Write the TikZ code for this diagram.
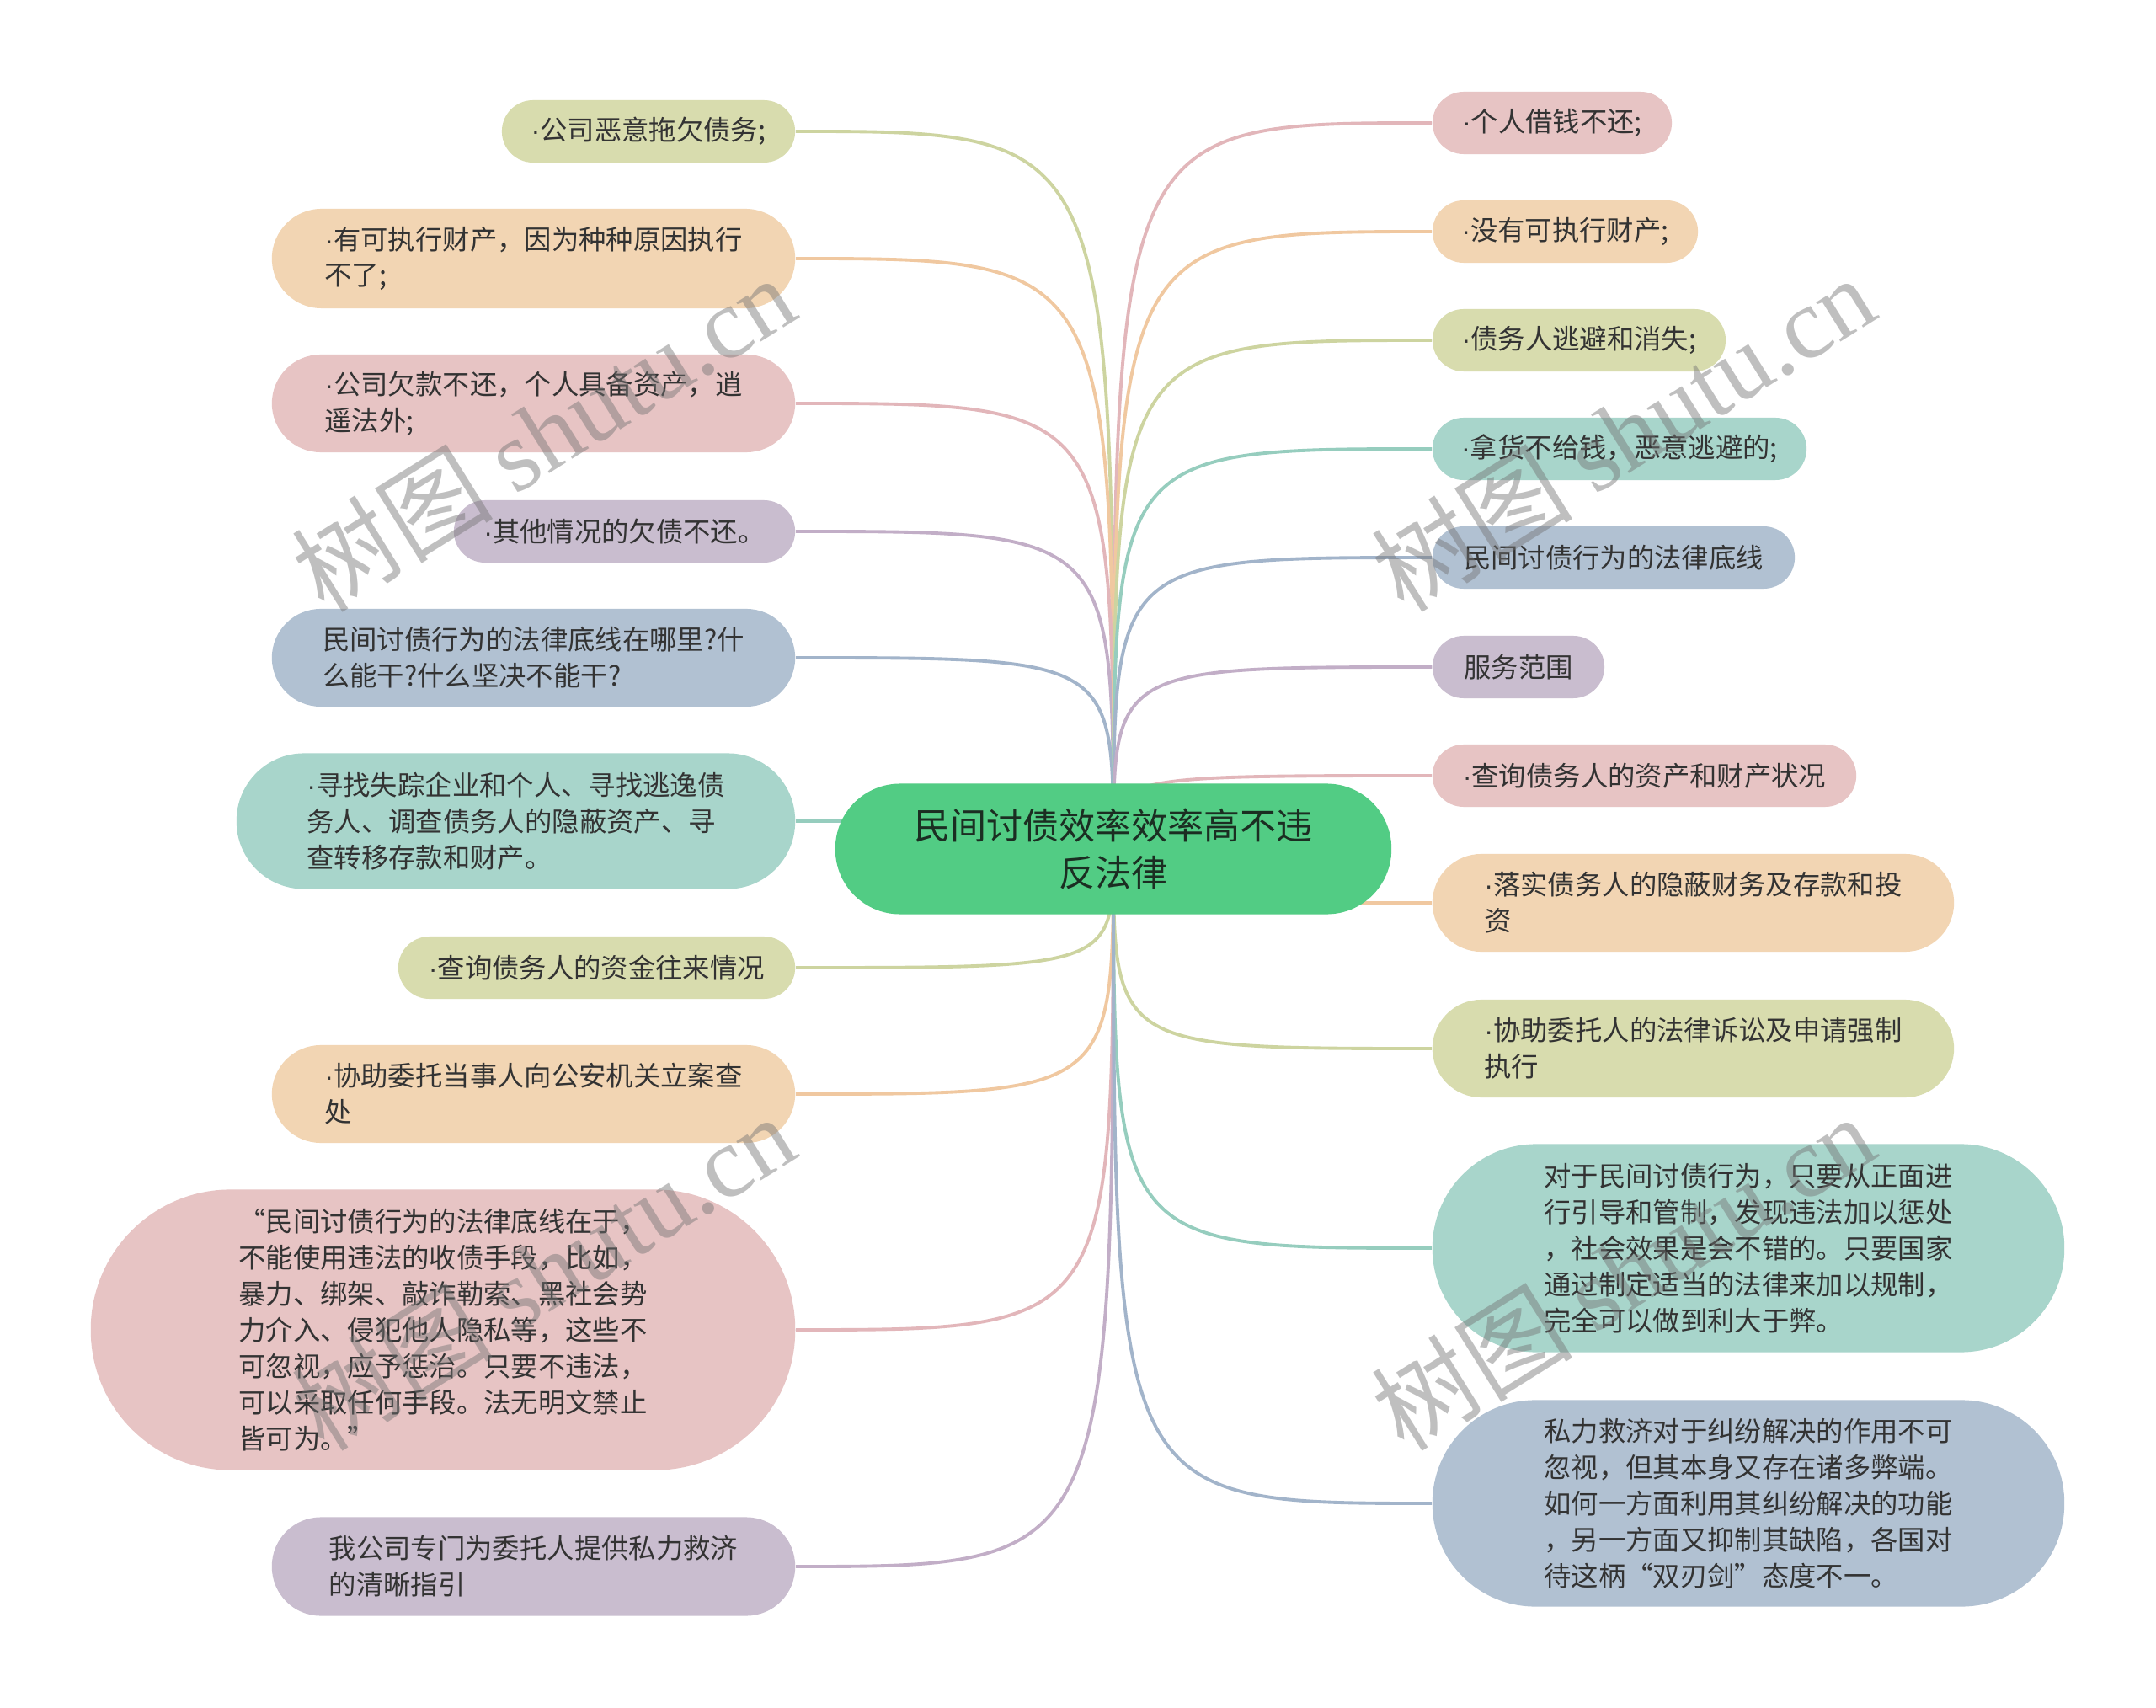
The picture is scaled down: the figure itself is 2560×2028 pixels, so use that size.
\documentclass[tikz,border=0pt]{standalone}
\usepackage{fontspec}
\setmainfont{Noto Sans CJK SC}
\newfontfamily\wmlatin{Liberation Serif}
\newfontfamily\dotfont{Liberation Sans}
\newcommand\dt{{\dotfont ·}}
\usetikzlibrary{backgrounds}
\definecolor{cpink}{HTML}{E7C4C4}
\definecolor{cpeach}{HTML}{F2D5B3}
\definecolor{colive}{HTML}{D8DCAE}
\definecolor{cteal}{HTML}{A8D5CB}
\definecolor{cblue}{HTML}{B1C1D2}
\definecolor{cpurple}{HTML}{C9BDCF}
\definecolor{lpink}{HTML}{E2B6BA}
\definecolor{lpeach}{HTML}{F0C8A0}
\definecolor{lolive}{HTML}{CDD4A0}
\definecolor{lteal}{HTML}{96CDBE}
\definecolor{lblue}{HTML}{A2B4CA}
\definecolor{lpurple}{HTML}{C2AEC7}
\definecolor{croot}{HTML}{52CC84}
\definecolor{ctext}{HTML}{333333}
\definecolor{croottext}{HTML}{1B2E22}
\newcommand\leafnode[8]{\node[leaf, fill=#6, minimum width=#4cm, minimum height=#5cm, rounded corners=#7cm] (#1) at (#2,#3) {#8};}
\begin{document}
\begin{tikzpicture}[x=0.01cm,y=-0.01cm,
  leaf/.style={draw=none, align=left, text=ctext, inner sep=0pt,
    font=\fontsize{9.2pt}{12.2pt}\selectfont},
  rootnode/.style={draw=none, fill=croot, align=center, text=croottext, inner sep=0pt,
    minimum width=6.6cm, minimum height=1.55cm, rounded corners=0.77cm,
    font=\fontsize{12.25pt}{15.8pt}\selectfont},
  conn/.style={line width=1.1pt},
  wm/.style={text=black!55, text opacity=0.45, inner sep=0pt,
    font=\fontsize{34pt}{40pt}\selectfont}]
\useasboundingbox (0,0) rectangle (2560,2028);

\node[rootnode] (root) at (1322,1008) {民间讨债效率效率高不违\\反法律};

% left side
\leafnode{l1}{770}{156}{3.48}{0.74}{colive}{0.37}{\dt 公司恶意拖欠债务;}
\leafnode{l2}{633.5}{307}{6.21}{1.18}{cpeach}{0.59}{\dt 有可执行财产，因为种种原因执行\\不了;}
\leafnode{l3}{633.5}{479}{6.21}{1.16}{cpink}{0.58}{\dt 公司欠款不还，个人具备资产，逍\\遥法外;}
\leafnode{l4}{741.5}{631}{4.05}{0.74}{cpurple}{0.37}{\dt 其他情况的欠债不还。}
\leafnode{l5}{633.5}{781}{6.21}{1.16}{cblue}{0.58}{民间讨债行为的法律底线在哪里?什\\么能干?什么坚决不能干?}
\leafnode{l6}{612.5}{975}{6.63}{1.61}{cteal}{0.80}{\dt 寻找失踪企业和个人、寻找逃逸债\\务人、调查债务人的隐蔽资产、寻\\查转移存款和财产。}
\leafnode{l7}{708.5}{1149}{4.71}{0.74}{colive}{0.37}{\dt 查询债务人的资金往来情况}
\leafnode{l8}{633.5}{1299}{6.21}{1.16}{cpeach}{0.58}{\dt 协助委托当事人向公安机关立案查\\处}
\leafnode{l9}{526}{1579}{8.36}{3.33}{cpink}{1.66}{“民间讨债行为的法律底线在于，\\不能使用违法的收债手段，比如，\\暴力、绑架、敲诈勒索、黑社会势\\力介入、侵犯他人隐私等，这些不\\可忽视，应予惩治。只要不违法，\\可以采取任何手段。法无明文禁止\\皆可为。”}
\leafnode{l10}{633.5}{1860}{6.21}{1.17}{cpurple}{0.58}{我公司专门为委托人提供私力救济\\的清晰指引}

% right side
\leafnode{r1}{1843}{146}{2.84}{0.74}{cpink}{0.37}{\dt 个人借钱不还;}
\leafnode{r2}{1858.5}{275}{3.15}{0.74}{cpeach}{0.37}{\dt 没有可执行财产;}
\leafnode{r3}{1875}{404}{3.48}{0.74}{colive}{0.37}{\dt 债务人逃避和消失;}
\leafnode{r4}{1923}{533}{4.44}{0.74}{cteal}{0.37}{\dt 拿货不给钱，恶意逃避的;}
\leafnode{r5}{1916}{662}{4.30}{0.74}{cblue}{0.37}{民间讨债行为的法律底线}
\leafnode{r6}{1803}{792}{2.04}{0.74}{cpurple}{0.37}{服务范围}
\leafnode{r7}{1952.5}{921}{5.03}{0.74}{cpink}{0.37}{\dt 查询债务人的资产和财产状况}
\leafnode{r8}{2010.5}{1072}{6.19}{1.16}{cpeach}{0.58}{\dt 落实债务人的隐蔽财务及存款和投\\资}
\leafnode{r9}{2010.5}{1245}{6.19}{1.16}{colive}{0.58}{\dt 协助委托人的法律诉讼及申请强制\\执行}
\leafnode{r10}{2076}{1482}{7.50}{2.47}{cteal}{1.23}{对于民间讨债行为，只要从正面进\\行引导和管制，发现违法加以惩处\\，社会效果是会不错的。只要国家\\通过制定适当的法律来加以规制，\\完全可以做到利大于弊。}
\leafnode{r11}{2076}{1785}{7.50}{2.45}{cblue}{1.22}{私力救济对于纠纷解决的作用不可\\忽视，但其本身又存在诸多弊端。\\如何一方面利用其纠纷解决的功能\\，另一方面又抑制其缺陷，各国对\\待这柄“双刃剑”态度不一。}

\begin{pgfonlayer}{background}
\fill[white] (0,0) rectangle (2560,2028);
\foreach \n/\c in {l1/lolive,l2/lpeach,l3/lpink,l4/lpurple,l5/lblue,l6/lteal,l7/lolive,l8/lpeach,l9/lpink,l10/lpurple}
  \draw[conn,\c] (root.center) .. controls (root.center |- \n.east) .. (\n.east);
\foreach \n/\c in {r1/lpink,r2/lpeach,r3/lolive,r4/lteal,r5/lblue,r6/lpurple,r7/lpink,r8/lpeach,r9/lolive,r10/lteal,r11/lblue}
  \draw[conn,\c] (root.center) .. controls (root.center |- \n.west) .. (\n.west);
\end{pgfonlayer}

% watermarks
\node[wm, rotate=32] (wm1) at (645,514) {树图 {\wmlatin shutu.cn}};
\node[wm, rotate=32] (wm2) at (1927,514) {树图 {\wmlatin shutu.cn}};
\node[wm, rotate=32] (wm3) at (645,1510) {树图 {\wmlatin shutu.cn}};
\node[wm, rotate=32] (wm4) at (1927,1510) {树图 {\wmlatin shutu.cn}};
\end{tikzpicture}
\end{document}
